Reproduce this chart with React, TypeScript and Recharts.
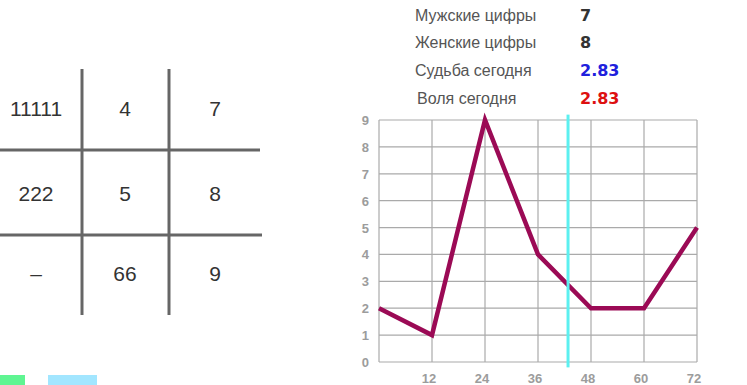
import React from 'react';
import { LineChart, Line, XAxis, YAxis, CartesianGrid, ReferenceLine } from 'recharts';

const ages = [0, 12, 24, 36, 48, 60, 72];
const values = [2, 1, 9, 4, 2, 2, 5];
const xTicks = [0, 12, 24, 36, 48, 60, 72];
const yTicks = [0, 1, 2, 3, 4, 5, 6, 7, 8, 9];
const todayAge = 42.8;

const gridCells = [
  ['11111', '4', '7'],
  ['222', '5', '8'],
  ['–', '66', '9'],
];

const infoLabels = ['Мужские цифры', 'Женские цифры', 'Судьба сегодня', 'Воля сегодня'];
const infoValues = ['7', '8', '2.83', '2.83'];
const infoColors = ['#333333', '#333333', '#2020dd', '#dd1010'];

const data = ages.map((age, i) => ({ age, value: values[i] }));

const font = 'Arial, "Liberation Sans", sans-serif';

// x labels sit a little left of their grid line, 0 is left out
const XTick = (props: any) => {
  const { x, y, payload } = props;
  if (payload.value === 0) return null;
  return (
    <text x={x - 3} y={y + 13} textAnchor="middle" fontSize={13} fontWeight="bold" fill="#9c9c9c" fontFamily={font}>
      {payload.value}
    </text>
  );
};

const YTick = (props: any) => {
  const { x, y, payload } = props;
  return (
    <text x={x - 2} y={y + 5} textAnchor="end" fontSize={13} fontWeight="bold" fill="#9c9c9c" fontFamily={font}>
      {payload.value}
    </text>
  );
};

const App: React.FC = () => {
  const colX = [36, 125, 215];
  const rowY = [108, 193, 273];
  const infoY = [16, 43, 71, 99];

  return (
    <div style={{ position: 'relative', width: 747, height: 385, background: '#fff', fontFamily: font, overflow: 'hidden' }}>
      <style>{'body{margin:0}'}</style>
      {/* square of numbers */}
      <svg width={280} height={330} style={{ position: 'absolute', left: 0, top: 0 }}>
        <line x1={82} y1={69} x2={82} y2={315} stroke="#666" strokeWidth={3} />
        <line x1={169} y1={69} x2={169} y2={315} stroke="#666" strokeWidth={3} />
        <line x1={0} y1={150} x2={260} y2={150} stroke="#666" strokeWidth={3} />
        <line x1={0} y1={235} x2={262} y2={235} stroke="#666" strokeWidth={3} />
        {gridCells.map((row, r) =>
          row.map((cell, c) => (
            <text
              key={`${r}-${c}`}
              x={colX[c]}
              y={rowY[r]}
              textAnchor="middle"
              dominantBaseline="central"
              fontSize={21}
              fill="#333"
              fontFamily={font}
            >
              {cell}
            </text>
          ))
        )}
      </svg>

      {/* info block */}
      {infoLabels.map((label, i) => (
        <React.Fragment key={label}>
          <div style={{ position: 'absolute', left: i === 3 ? 417 : 415, top: infoY[i] - 10, fontSize: 16, color: '#555', lineHeight: '20px' }}>
            {label}
          </div>
          <div style={{ position: 'absolute', left: 580, top: infoY[i] - 10, fontSize: 16, fontWeight: 'bold', color: infoColors[i], lineHeight: '20px', fontFamily: '"DejaVu Sans", sans-serif' }}>
            {infoValues[i]}
          </div>
        </React.Fragment>
      ))}

      {/* bottom swatches */}
      <div style={{ position: 'absolute', left: 0, top: 375, width: 25, height: 10, background: '#5ff592' }} />
      <div style={{ position: 'absolute', left: 48, top: 375, width: 49, height: 10, background: '#a2e6ff' }} />

      <div style={{ position: 'absolute', left: 340, top: 105 }}>
        <LineChart width={380} height={280} data={data} margin={{ top: 15, right: 23, left: 9, bottom: 3 }}>
          <CartesianGrid stroke="#aaaaaa" strokeWidth={1.2} />
          <XAxis
            dataKey="age"
            type="number"
            domain={[0, 72]}
            ticks={xTicks}
            axisLine={false}
            tickLine={false}
            height={20}
            tick={<XTick />}
          />
          <YAxis
            type="number"
            domain={[0, 9]}
            ticks={yTicks}
            axisLine={false}
            tickLine={false}
            width={30}
            tick={<YTick />}
          />
          <Line
            type="linear"
            dataKey="value"
            stroke="#9b0a55"
            strokeWidth={4.5}
            dot={false}
            isAnimationActive={false}
          />
          <ReferenceLine
            segment={[{ x: todayAge, y: -0.2 }, { x: todayAge, y: 9.2 }]}
            stroke="#5cf0f0"
            strokeWidth={3}
            ifOverflow="visible"
          />
        </LineChart>
      </div>
    </div>
  );
};

export default App;
